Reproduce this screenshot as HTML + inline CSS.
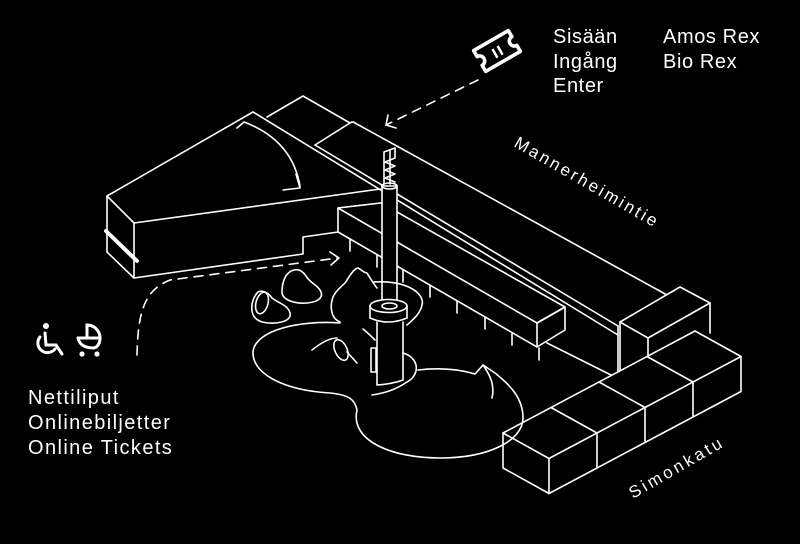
<!DOCTYPE html>
<html><head><meta charset="utf-8"><style>
html,body{margin:0;padding:0;background:#000;}
svg{display:block}
text{font-family:"Liberation Sans",sans-serif;fill:#fff}
</style></head><body>
<svg width="800" height="544" viewBox="0 0 800 544" xmlns="http://www.w3.org/2000/svg">
<rect width="800" height="544" fill="#000"/>
<g fill="none" stroke="#fff" stroke-width="1.6" stroke-linejoin="round" stroke-linecap="round">
<polyline points="267,117 303,96 350,123 315,145"/>
<line x1="355" y1="123" x2="667" y2="295"/>
<path d="M350,123 Q353,121 355,123"/>
<line x1="315" y1="145" x2="618" y2="326"/>
<line x1="253" y1="112" x2="618" y2="335"/>
<line x1="618" y1="326" x2="618" y2="377"/>
<line x1="547" y1="343" x2="615" y2="377"/>
<polyline points="134,223 107,196 253,112"/>
<line x1="134" y1="223" x2="380" y2="189"/>
<line x1="107" y1="196" x2="107" y2="252"/>
<line x1="134" y1="223" x2="134" y2="278"/>
<polyline points="107,252 134,278 303,254 303,237 338,232 338,208 381,203"/>
<path d="M237,128 L244,122 Q292,140 300,186"/>
<polyline points="283,190 300,188 296,174"/>
<polygon points="338,208 381,203 565,307 537,323" fill="#000"/>
<polyline points="537,323 565,307 565,330 537,347 537,323"/>
<line x1="338" y1="232" x2="537" y2="347"/>
<g>
<line x1="350" y1="239" x2="350" y2="251"/>
<line x1="377" y1="255" x2="377" y2="267"/>
<line x1="403" y1="270" x2="403" y2="282"/>
<line x1="430" y1="285" x2="430" y2="297"/>
<line x1="457" y1="301" x2="457" y2="313"/>
<line x1="485" y1="317" x2="485" y2="329"/>
<line x1="512" y1="333" x2="512" y2="345"/>
<line x1="539" y1="348" x2="539" y2="360"/>
</g>
<polygon points="620,322 680,287 710,303 648,338" fill="#000"/>
<line x1="620" y1="322" x2="620" y2="377"/>
<line x1="648" y1="338" x2="648" y2="362"/>
<line x1="710" y1="303" x2="710" y2="333"/>
<polygon points="503,433 695,331 741,356.5 549,458.5" fill="#000"/>
<line x1="551" y1="407.5" x2="597" y2="433"/>
<line x1="599" y1="382" x2="645" y2="407.5"/>
<line x1="647" y1="356.5" x2="693" y2="382"/>
<polyline points="503,433 503,468 549,493.5 741,391.5 741,356.5"/>
<line x1="549" y1="458.5" x2="549" y2="493.5"/>
<line x1="597" y1="433" x2="597" y2="468"/>
<line x1="645" y1="407.5" x2="645" y2="442.5"/>
<line x1="693" y1="382" x2="693" y2="417"/>
<rect x="382" y="186" width="15" height="118" fill="#000"/>
<ellipse cx="389.5" cy="186" rx="7.5" ry="3"/>
<polyline points="384,184 384,152 395,148 395,158 385,162 395,166 385,170 395,174 385,178 395,182"/>
<line x1="390" y1="150" x2="390" y2="184"/>
<path d="M373,282 C410,280 425,295 422,305 C420,315 410,322 407,325"/>
<path d="M403,353 C420,358 420,375 407,382 C395,390 385,393 372,395"/>
<path d="M370,306 L370,318 Q388,326 407,318 L407,306" fill="#000"/>
<ellipse cx="388.5" cy="306" rx="18.5" ry="6.5" fill="#000"/>
<ellipse cx="389.5" cy="306" rx="7.5" ry="3"/>
<path d="M377,322 L377,385 Q392,384 403,380 L403,322"/>
<rect x="371" y="348" width="5" height="24"/>
<path d="M340,323 C300,320 255,330 253,352 C252,372 280,390 330,393 C350,395 355,400 357,410 C350,440 390,458 440,458 C490,458 523,440 523,418 C523,398 510,385 495,373 L483,365 L475,374 C455,368 435,368 418,370"/>
<path d="M312,350 C322,342 330,338 337,338"/>
<ellipse cx="341" cy="350" rx="6" ry="11" transform="rotate(-25 341 350)"/>
<line x1="347" y1="352" x2="357" y2="363"/>
<path d="M483,365 C490,375 495,385 492,398"/>
<path d="M258,292 C250,300 248,318 262,322 C275,325 292,322 290,313 C288,305 278,303 272,298 C268,292 262,290 258,292 Z"/>
<ellipse cx="262" cy="303" rx="6" ry="11" transform="rotate(15 262 303)"/>
<path d="M294,270 C285,272 282,283 282,292 C282,300 295,304 307,303 C320,302 324,296 320,290 C316,284 310,283 306,276 C302,270 298,269 294,270 Z"/>
<path d="M340,322 C330,318 330,305 333,297 C337,288 345,285 347,280 C350,275 355,268 358,268 C362,270 364,273 367,273 C370,278 373,283 377,288"/>
<path d="M363,329 C368,333 372,337 375,340"/>
<line x1="106" y1="231" x2="137" y2="261" stroke-width="4"/>
<path d="M478,80 L386,125" stroke-dasharray="9,7"/>
<polyline points="388,115 386,125 396,128"/>
<path d="M137,355 C138,310 145,290 170,280 L338,258" stroke-dasharray="9,7"/>
<polyline points="330,252 339,258 331,265"/>
</g>
<g transform="translate(497,51) rotate(-30)" fill="none" stroke="#fff" stroke-width="3.6" stroke-linejoin="round">
<path d="M-20,-12 L20,-12 L20,-5 A5,5 0 0 0 20,5 L20,12 L-20,12 L-20,5 A5,5 0 0 0 -20,-5 Z"/>
<line x1="-3" y1="-4" x2="-3" y2="6" stroke-width="2.5"/>
<line x1="3" y1="-4" x2="3" y2="6" stroke-width="2.5"/>
</g>
<g fill="none" stroke="#fff" stroke-width="3" stroke-linecap="round">
<circle cx="46" cy="326" r="3" fill="#fff" stroke="none"/>
<path d="M40,337 A9,9 0 1 0 55,349"/>
<polyline points="45,333 46,345 56,345 62,354"/>
<path d="M78,338 L100,338 A13,13 0 0 0 87,325 L87,338"/>
<path d="M78,338 Q80,348 94,348 Q100,346 100,338"/>
<circle cx="82" cy="354" r="2.6" fill="#fff" stroke="none"/>
<circle cx="97" cy="354" r="2.6" fill="#fff" stroke="none"/>
</g>
<g font-size="20" letter-spacing="0.6">
<text x="553" y="43">Sisään</text>
<text x="553" y="68">Ingång</text>
<text x="553" y="92">Enter</text>
<text x="663" y="43">Amos Rex</text>
<text x="663" y="68">Bio Rex</text>
<text x="28" y="404" letter-spacing="1.4">Nettiliput</text>
<text x="28" y="429" letter-spacing="1.4">Onlinebiljetter</text>
<text x="28" y="454" letter-spacing="1.4">Online Tickets</text>
</g>
<text x="513" y="146" font-size="17" letter-spacing="2.6" transform="rotate(30 513 146)">Mannerheimintie</text>
<text x="633" y="499" font-size="17" letter-spacing="3" transform="rotate(-30 633 499)">Simonkatu</text>
</svg>
</body></html>
